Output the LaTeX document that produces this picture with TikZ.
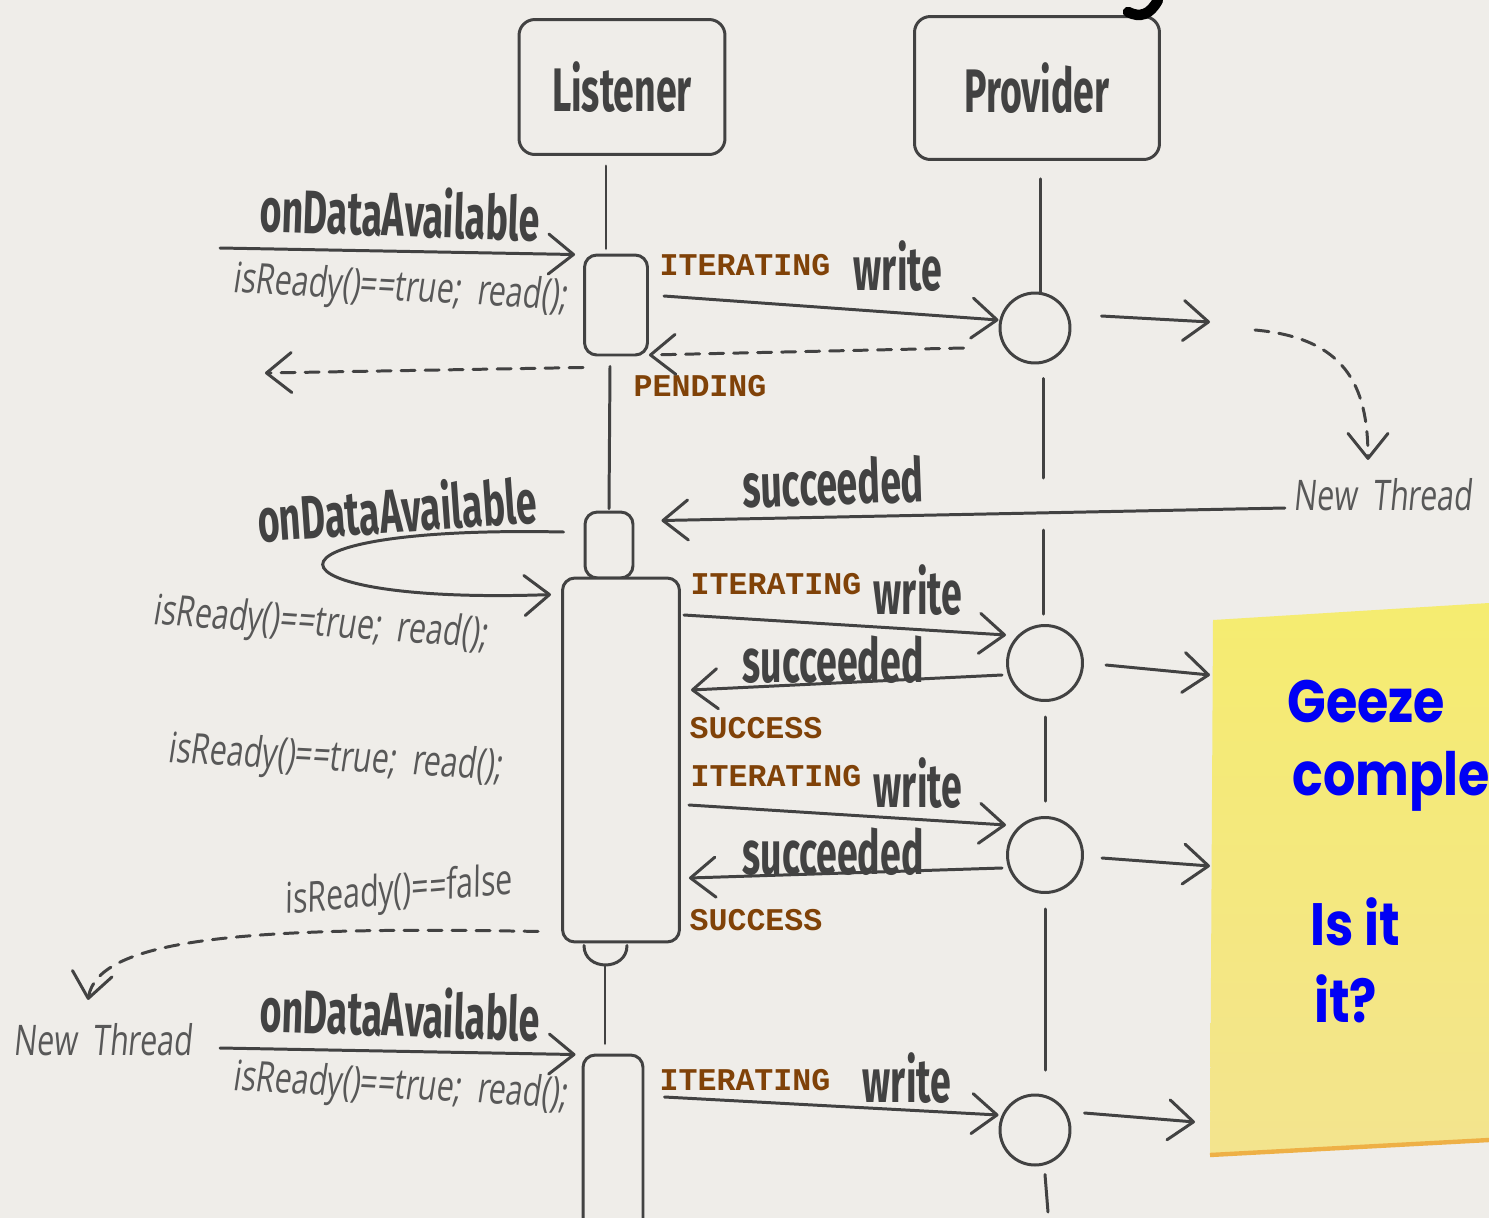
\documentclass[tikz,border=0pt]{standalone}
\usepackage{fontspec}
\setmainfont{Open Sans}
\newfontfamily\sketchfont[FakeStretch=0.61]{Fira Sans}
\newfontfamily\pencilfont[FakeStretch=0.72,FakeSlant=0.1]{Open Sans}
\newfontfamily\memofont[FakeStretch=0.85]{Poppins}
\newfontfamily\statefont{Liberation Mono}
\usepackage{tikz}
\usetikzlibrary{arrows.meta,positioning}
\definecolor{paper}{RGB}{239,237,233}
\definecolor{inkgray}{RGB}{66,66,66}
\definecolor{pencilgray}{RGB}{88,88,88}
\definecolor{statebrown}{RGB}{128,66,8}
\definecolor{notetop}{RGB}{245,236,112}
\definecolor{notebottom}{RGB}{243,228,142}
\definecolor{noteedge}{RGB}{238,176,70}
\definecolor{noteink}{RGB}{0,0,245}
\tikzset{
  actor/.style={
    rectangle,
    rounded corners=9pt,
    draw=inkgray,
    line width=1.7pt,
    text=inkgray,
    font=\sketchfont\bfseries\fontsize{35}{38}\selectfont
  },
  actbar/.style={
    rectangle,
    rounded corners=7pt,
    draw=inkgray,
    fill=paper,
    line width=1.7pt,
    inner sep=0pt
  },
  callpt/.style={
    circle,
    draw=inkgray,
    line width=1.7pt,
    minimum size=1.4cm,
    inner sep=0pt
  },
  lifeline/.style={
    draw=inkgray,
    line width=1.7pt,
    line cap=round
  },
  msgarrow/.style={
    -{Straight Barb[length=5mm,width=8mm,round]},
    line width=1.7pt,
    line cap=round,
    draw=inkgray
  },
  replyarrow/.style={
    msgarrow,
    dash pattern=on 2.8mm off 2mm
  },
  callname/.style={
    inner sep=2pt,
    text=inkgray,
    font=\sketchfont\bfseries\fontsize{35}{38}\selectfont
  },
  calltext/.style={
    inner sep=2pt,
    text=pencilgray,
    font=\pencilfont\fontsize{24}{26}\selectfont
  },
  statelabel/.style={
    inner sep=2pt,
    text=statebrown,
    font=\statefont\bfseries\fontsize{18}{20}\selectfont
  },
  memotext/.style={
    inner sep=0pt,
    text=noteink,
    font=\memofont\bfseries\fontsize{34}{36}\selectfont
  }
}

\begin{document}
\begin{tikzpicture}[x=0.02cm, y=-0.02cm]
\useasboundingbox (0,0) rectangle (1489,1218);
\clip (0,0) rectangle (1489,1218);
\fill[paper] (0,0) rectangle (1489,1218);

\node[actor, minimum width=4.12cm, minimum height=2.7cm] (listener) at (622,87) {Listener};
\node[actor, minimum width=4.9cm, minimum height=2.86cm] (provider) at (1037,88) {Provider};
\draw[line width=6pt, line cap=round] (1128,12) .. controls (1140,18) and (1150,15) .. (1158,0);

\node[actbar, minimum width=1.26cm, minimum height=2cm] (act1) at (616,305) {};
\node[actbar, minimum width=0.96cm, minimum height=1.32cm] (act2top) at (609,545) {};
\node[actbar, minimum width=2.34cm, minimum height=7.28cm] (act2) at (621,760) {};
\node[actbar, minimum width=1.2cm, minimum height=4cm] (act3) at (613,1155) {};

\node[callpt] (wr1) at (1035,328) {};
\node[callpt, minimum size=1.5cm] (wr2) at (1045,663) {};
\node[callpt, minimum size=1.5cm] (wr3) at (1045,855) {};
\node[callpt] (wr4) at (1035,1130) {};

\node[callname, rotate=-2] (oda1) at (400,212) {onDataAvailable};
\node[calltext, rotate=-3] (rd1) at (400,290) {isReady()==true;\ \ read();};
\node[statelabel] (it1) at (745,265) {ITERATING};
\node[callname] (wt1) at (898,266) {write};
\node[statelabel] (pend) at (700,386) {PENDING};
\node[callname, rotate=2] (sc1) at (833,482) {succeeded};
\node[calltext] (nt1) at (1383,495) {New\ \ Thread};
\node[callname, rotate=4] (oda2) at (397,508) {onDataAvailable};
\node[calltext, rotate=-4] (rd2) at (320,625) {isReady()==true;\ \ read();};
\node[statelabel] (it2) at (776,584) {ITERATING};
\node[callname] (wt2) at (918,590) {write};
\node[callname] (sc2) at (833,660) {succeeded};
\node[statelabel] (ok2) at (756,728) {SUCCESS};
\node[calltext, rotate=-3] (rd3) at (335,760) {isReady()==true;\ \ read();};
\node[statelabel] (it3) at (776,776) {ITERATING};
\node[callname] (wt3) at (918,783) {write};
\node[callname] (sc3) at (833,852) {succeeded};
\node[statelabel] (ok3) at (756,920) {SUCCESS};
\node[calltext, rotate=5] (rdf) at (398,893) {isReady()==false};
\node[calltext] (nt2) at (103,1040) {New\ \ Thread};
\node[callname, rotate=-2] (oda3) at (400,1012) {onDataAvailable};
\node[calltext, rotate=-3] (rd4) at (400,1088) {isReady()==true;\ \ read();};
\node[statelabel] (it4) at (745,1080) {ITERATING};
\node[callname] (wt4) at (907,1078) {write};

\coordinate (src1) at (220,248);
\coordinate (src3) at (220,1048);
\coordinate (lost1) at (265,373);
\coordinate (spawn1) at (1255,330);
\coordinate (fwd1) at (1210,322);
\coordinate (fwd2) at (1210,675);
\coordinate (fwd3) at (1210,866);
\coordinate (fwd4) at (1195,1122);
\coordinate (gap1a) at (1043,478);
\coordinate (gap1b) at (1043,530);
\coordinate (gap3) at (1045,1070);
\coordinate (tail) at (1048,1212);
\coordinate (cupbot) at (605,966);

\draw[lifeline] ([shift={(-16,10)}]listener.south) -- ([shift={(-10,-5)}]act1.north);
\draw[lifeline] ([shift={(-6,10)}]act1.south) -- ([shift={(0,-2)}]act2top.north);
\draw[lifeline] ([shift={(-37,2)}]act2.south) .. controls +(0,26) and +(0,26) .. ([shift={(6,2)}]act2.south);
\draw[lifeline] (cupbot) -- ([shift={(-8,-10)}]act3.north);
\draw[lifeline] ([shift={(3,18)}]provider.south) -- ([shift={(5,0)}]wr1.north);
\draw[lifeline] ([shift={(8,14)}]wr1.south) -- (gap1a);
\draw[lifeline] (gap1b) -- ([shift={(-2,-10)}]wr2.north);
\draw[lifeline] ([shift={(0,15)}]wr2.south) -- ([shift={(0,-15)}]wr3.north);
\draw[lifeline] ([shift={(0,15)}]wr3.south) -- (gap3);
\draw[lifeline, dash pattern=on 1.4cm off 0.2cm] ([shift={(10,8)}]wr4.south) -- (tail);

\draw[msgarrow] (src1) -- ([shift={(-8,1)}]act1.north west);
\draw[msgarrow] ([shift={(15,-9)}]act1.east) -- ([shift={(0,-8)}]wr1.west);
\draw[replyarrow] ([shift={(-35,20)}]wr1.west) -- ([shift={(0,50)}]act1.east);
\draw[replyarrow] ([shift={(0,11)}]act1.south west) -- (lost1);
\draw[msgarrow] ([shift={(30,-12)}]wr1.east) -- (fwd1);
\draw[replyarrow] (spawn1) .. controls (1345,338) and (1368,385) .. ([shift={(-15,-15)}]nt1.north);
\draw[msgarrow] ([shift={(-5,13)}]nt1.west) -- ([shift={(27,10)}]act2top.north east);
\draw[msgarrow] ([shift={(-20,-13)}]act2top.west) .. controls (235,525) and (255,605) .. ([shift={(-10,18)}]act2.north west);
\draw[msgarrow] ([shift={(3,-145)}]act2.east) -- ([shift={(0,-28)}]wr2.west);
\draw[msgarrow] ([shift={(-4,12)}]wr2.west) -- ([shift={(10,-70)}]act2.east);
\draw[msgarrow] ([shift={(22,2)}]wr2.east) -- (fwd2);
\draw[msgarrow] ([shift={(8,45)}]act2.east) -- ([shift={(0,-30)}]wr3.west);
\draw[msgarrow] ([shift={(-4,13)}]wr3.west) -- ([shift={(8,118)}]act2.east);
\draw[msgarrow] ([shift={(18,3)}]wr3.east) -- (fwd3);
\draw[replyarrow] ([shift={(-23,-12)}]act2.south west) .. controls (250,926) and (98,938) .. ([shift={(-15,-20)}]nt2.north);
\draw[msgarrow] (src3) -- ([shift={(-6,1)}]act3.north west);
\draw[msgarrow] ([shift={(20,-58)}]act3.east) -- ([shift={(0,-15)}]wr4.west);
\draw[msgarrow] ([shift={(13,-17)}]wr4.east) -- (fwd4);

\shade[top color=notetop, bottom color=notebottom] (1213,620) -- (1489,603) -- (1489,1140) -- (1210,1155) -- cycle;
\draw[noteedge, line width=2.5pt] (1210,1155) -- (1489,1140);
\node[memotext, anchor=base west] (memo1) at (1287,722) {Geeze};
\node[memotext, anchor=base west] (memo2) at (1292,795) {comple};
\node[memotext, anchor=base west] (memo3) at (1310,945) {Is it};
\node[memotext, anchor=base west] (memo4) at (1314,1022) {it?};
\end{tikzpicture}
\end{document}
